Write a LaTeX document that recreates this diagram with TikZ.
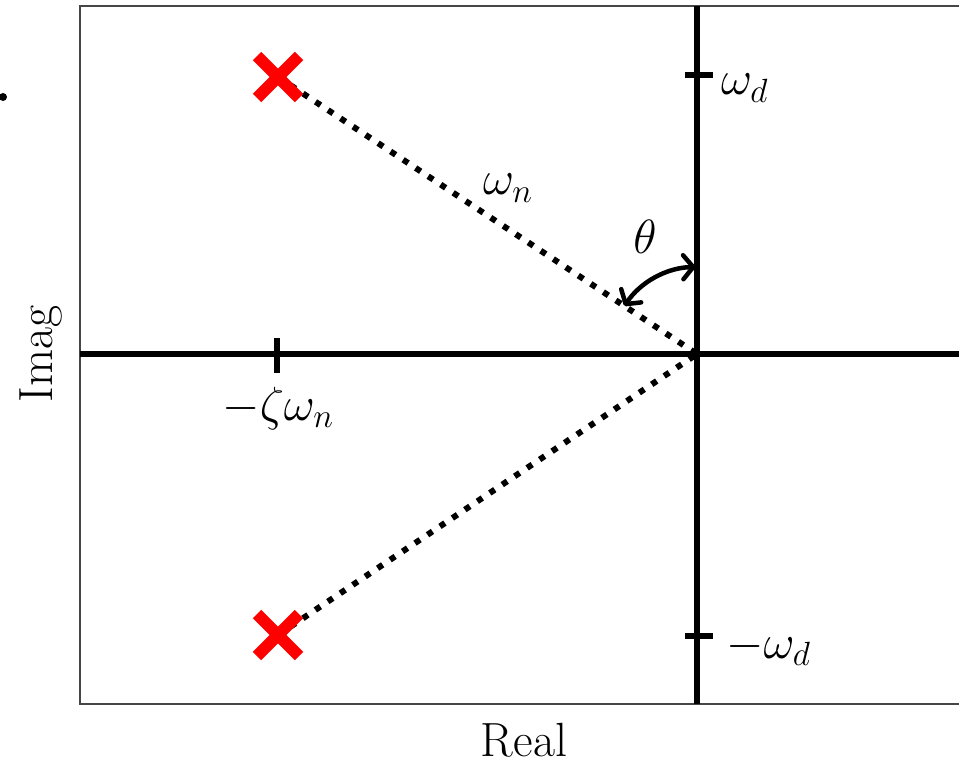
\RequirePackage{fix-cm}
\documentclass[tikz,border=0pt]{standalone}
\usetikzlibrary{arrows.meta}
\begin{document}
\begin{tikzpicture}[x=1pt,y=-1pt,
  axisline/.style={line width=6pt},
  tickline/.style={line width=6pt},
  frameline/.style={line width=2pt,draw={rgb,255:red,70;green,70;blue,70}},
  dotline/.style={line width=6pt,dash pattern=on 6pt off 9pt,line cap=butt},
  polemark/.style={line width=12pt,red,line cap=butt},
  lbl/.style={inner sep=0pt,font=\fontsize{48}{58}\selectfont},
  anglearrow/.style={line width=4.5pt,line cap=round,{Straight Barb[length=10pt,width=24pt,round]}-{Straight Barb[length=10pt,width=24pt,round]}}
]
\useasboundingbox (0,0) rectangle (959,762);
\begin{scope}
\clip (0,0) rectangle (959,762);
\draw[frameline] (80,6) rectangle (1010,704);
% axes
\coordinate (o) at (697,354);
\coordinate (xl) at (80,354);
\coordinate (xr) at (965,354);
\coordinate (yt) at (697,6);
\coordinate (yb) at (697,704);
\draw[axisline] (xl) -- (xr);
\draw[axisline] (yt) -- (yb);
% ticks
\coordinate (t1a) at (685,75);  \coordinate (t1b) at (713,75);
\coordinate (t2a) at (685,636); \coordinate (t2b) at (713,636);
\coordinate (t3a) at (277,338); \coordinate (t3b) at (277,373);
\draw[tickline] (t1a) -- (t1b);
\draw[tickline] (t2a) -- (t2b);
\draw[tickline] (t3a) -- (t3b);
% poles
\coordinate (p1) at (278,77);
\coordinate (p2) at (278,635);
\draw[dotline] (p1) -- (o);
\draw[dotline] (p2) -- (o);
\foreach \p in {p1,p2}{
  \draw[polemark] ([shift={(-21,-21)}]\p) -- ([shift={(21,21)}]\p);
  \draw[polemark] ([shift={(-21,21)}]\p) -- ([shift={(21,-21)}]\p);
}
% angle arrow
\coordinate (a1) at ([shift={(-146.5:87)}]o);
\draw[anglearrow] (a1) arc[start angle=-146.5,end angle=-91,radius=87];
% labels
\node[lbl,anchor=base west] (wd) at (721,95) {$\omega_d$};
\node[lbl,anchor=base west] (mwd) at (726,658) {$-\omega_d$};
\node[lbl,anchor=base] (zw) at (278,420) {$-\zeta\omega_n$};
\node[lbl,anchor=base] (th) at (645,254) {$\theta$};
\node[lbl,anchor=base west] (wn) at (483,195) {$\omega_n$};
\node[lbl,anchor=base] (real) at (524,756) {Real};
\node[lbl,anchor=base,rotate=90] (imag) at (52,354) {Imag};
\fill (3,97) circle (4pt);
\end{scope}
\end{tikzpicture}
\end{document}
